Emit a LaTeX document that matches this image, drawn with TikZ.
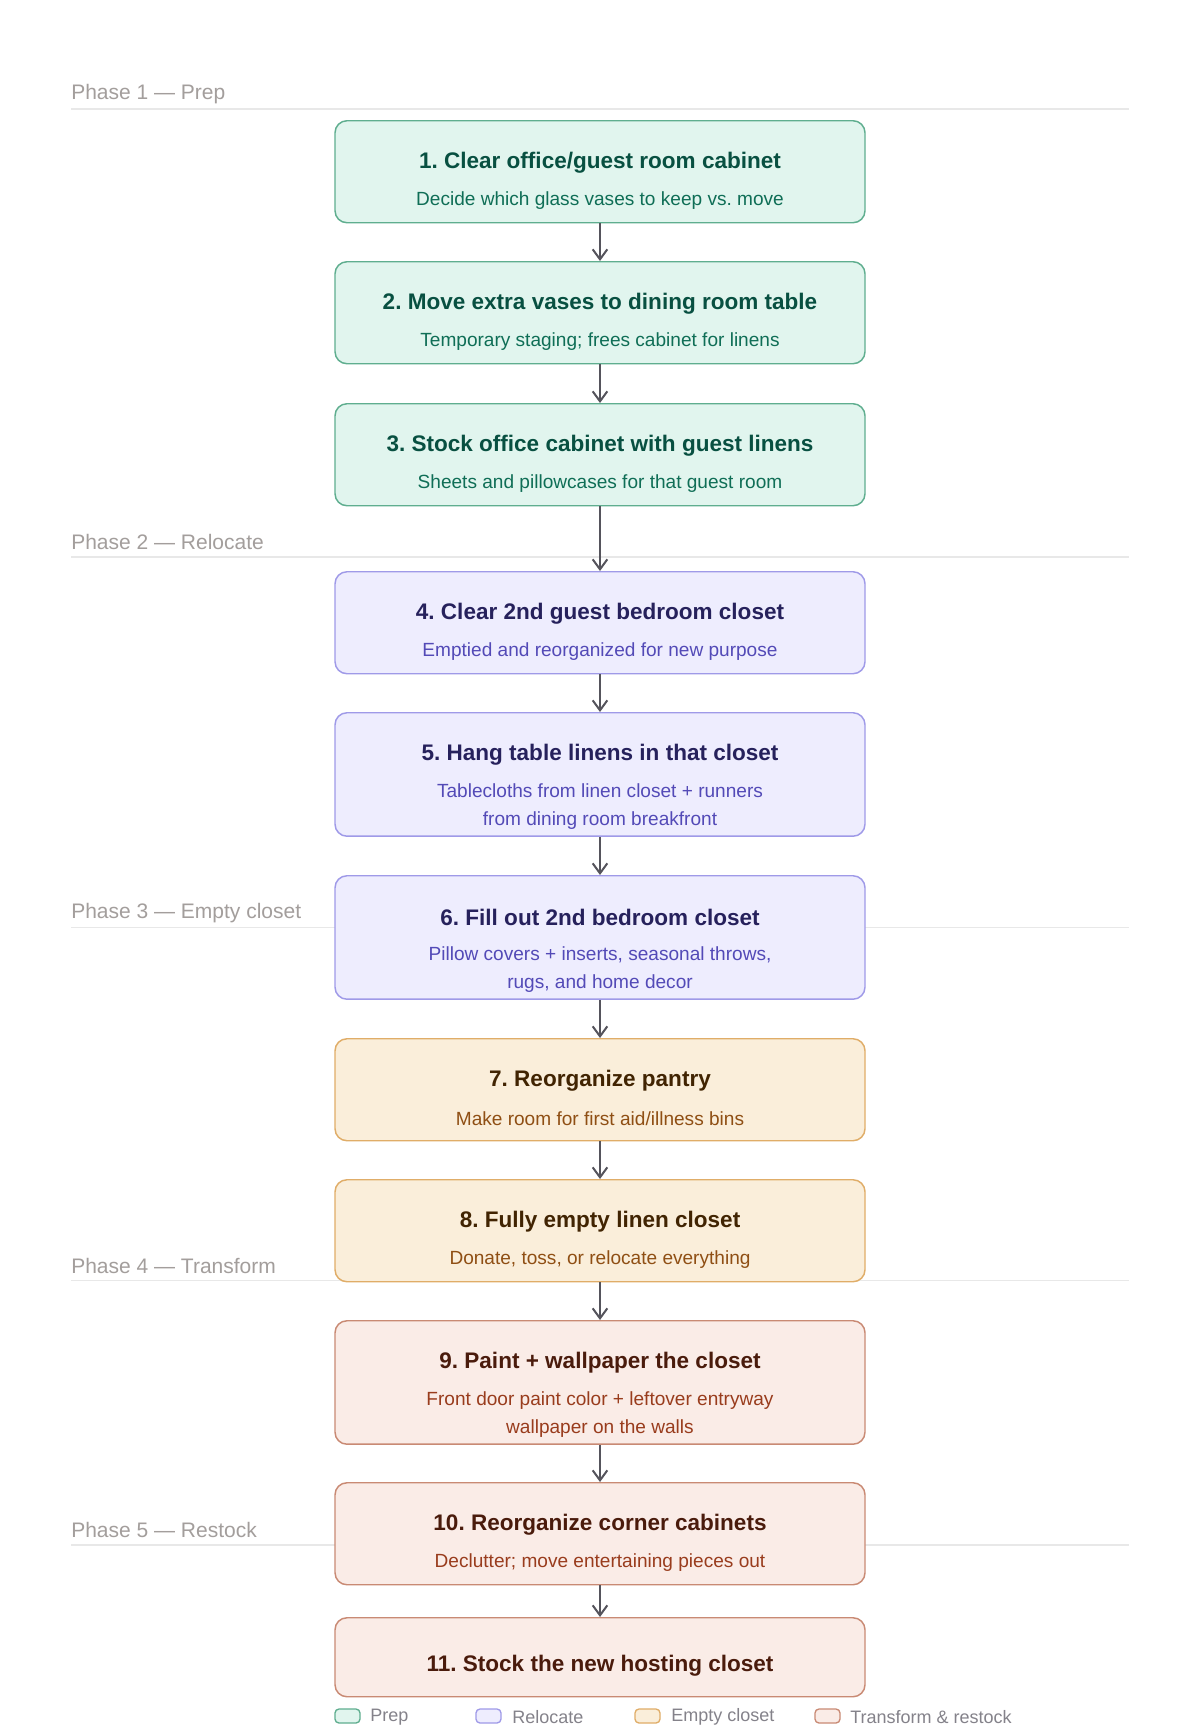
\documentclass[tikz,border=0pt]{standalone}
\usepackage{fontspec}
\setmainfont{Liberation Sans}
\usetikzlibrary{arrows.meta}
\definecolor{prepfill}{HTML}{E1F5EE}
\definecolor{prepline}{HTML}{5FAE8F}
\definecolor{preptitle}{HTML}{085041}
\definecolor{prepsub}{HTML}{0F6E56}
\definecolor{relfill}{HTML}{EEEDFE}
\definecolor{relline}{HTML}{9F9AE8}
\definecolor{reltitle}{HTML}{26215C}
\definecolor{relsub}{HTML}{534AB7}
\definecolor{empfill}{HTML}{FAEEDA}
\definecolor{empline}{HTML}{E0AD68}
\definecolor{emptitle}{HTML}{412402}
\definecolor{empsub}{HTML}{8F4F14}
\definecolor{trfill}{HTML}{FAECE7}
\definecolor{trline}{HTML}{C98A74}
\definecolor{trtitle}{HTML}{4A1B0C}
\definecolor{trsub}{HTML}{993C1D}
\definecolor{arrowgray}{HTML}{55545C}
\definecolor{phasegray}{HTML}{A39E9C}
\definecolor{phaseline}{HTML}{E8E8E8}
\definecolor{legendgray}{HTML}{84828A}
\tikzset{
  box/.style={draw, rounded corners=9pt, minimum width=397.5pt, inner sep=0pt, anchor=north, line width=1.1pt},
  prepbox/.style={box, fill=prepfill, draw=prepline},
  relbox/.style={box, fill=relfill, draw=relline},
  empbox/.style={box, fill=empfill, draw=empline},
  trbox/.style={box, fill=trfill, draw=trline},
  onesub/.style={minimum height=76.5pt},
  twosub/.style={minimum height=92.6pt},
  ttl/.style={font=\fontsize{16.9}{20}\selectfont\bfseries, inner sep=0pt, yshift=-2.4pt},
  subt/.style={font=\fontsize{14.3}{21.5}\selectfont, align=center, inner sep=0pt, yshift=-2.4pt},
  phaselbl/.style={font=\fontsize{15.75}{18}\selectfont, text=phasegray, anchor=west, inner sep=0pt, yshift=-2.2pt},
  phaserule/.style={draw=phaseline, line width=1.1pt},
  arr/.style={draw=arrowgray, line width=1.5pt, -{Straight Barb[length=7.5pt,width=11pt,line width=1.5pt]}},
  swatch/.style={draw, rounded corners=3pt, minimum width=18.75pt, minimum height=10.5pt, inner sep=0pt, line width=1pt},
  legtxt/.style={font=\fontsize{13.5}{16}\selectfont, text=legendgray, anchor=west, inner sep=0pt, yshift=-0.8pt}
}
\begin{document}
\frenchspacing
\begin{tikzpicture}[x=0.75pt,y=-0.75pt]
\useasboundingbox[fill=white] (0,0) rectangle (1200,1729);
% phase rules and labels
\coordinate (p1a) at (71,109);   \coordinate (p1b) at (1129,109);
\coordinate (p2a) at (71,557);   \coordinate (p2b) at (1129,557);
\coordinate (p3a) at (71,927.5); \coordinate (p3b) at (1129,927.5);
\coordinate (p4a) at (71,1280.5);\coordinate (p4b) at (1129,1280.5);
\coordinate (p5a) at (71,1545);  \coordinate (p5b) at (1129,1545);
\draw[phaserule] (p1a) -- (p1b);
\draw[phaserule] (p2a) -- (p2b);
\draw[phaserule] (p3a) -- (p3b);
\draw[phaserule] (p4a) -- (p4b);
\draw[phaserule] (p5a) -- (p5b);
\node[phaselbl] (ph1) at (71,91.5) {Phase 1 — Prep};
\node[phaselbl] (ph2) at (71,539) {Phase 2 — Relocate};
\node[phaselbl] (ph3) at (71,910) {Phase 3 — Empty closet};
\node[phaselbl] (ph4) at (71,1263) {Phase 4 — Transform};
\node[phaselbl] (ph5) at (71,1527.5) {Phase 5 — Restock};
% boxes
\node[prepbox,onesub] (b1) at (600,120) {};
\node[prepbox,onesub] (b2) at (600,261) {};
\node[prepbox,onesub] (b3) at (600,403) {};
\node[relbox,onesub] (b4) at (600,571) {};
\node[relbox,twosub] (b5) at (600,712) {};
\node[relbox,twosub] (b6) at (600,875) {};
\node[empbox,onesub] (b7) at (600,1038) {};
\node[empbox,onesub] (b8) at (600,1179) {};
\node[trbox,twosub] (b9) at (600,1320) {};
\node[trbox,onesub] (b10) at (600,1482) {};
\node[trbox,minimum height=59.25pt] (b11) at (600,1617) {};
% texts
\node[ttl,text=preptitle] (t1) at (600,159.5) {1. Clear office/guest room cabinet};
\node[subt,text=prepsub] (s1) at (600,197) {Decide which glass vases to keep vs. move};
\node[ttl,text=preptitle] (t2) at (600,300.5) {2. Move extra vases to dining room table};
\node[subt,text=prepsub] (s2) at (600,338) {Temporary staging; frees cabinet for linens};
\node[ttl,text=preptitle] (t3) at (600,442.5) {3. Stock office cabinet with guest linens};
\node[subt,text=prepsub] (s3) at (600,480) {Sheets and pillowcases for that guest room};
\node[ttl,text=reltitle] (t4) at (600,610.5) {4. Clear 2nd guest bedroom closet};
\node[subt,text=relsub] (s4) at (600,648) {Emptied and reorganized for new purpose};
\node[ttl,text=reltitle] (t5) at (600,751.5) {5. Hang table linens in that closet};
\node[subt,text=relsub] (s5) at (600,803.5) {Tablecloths from linen closet + runners\\from dining room breakfront};
\node[ttl,text=reltitle] (t6) at (600,914.5) {6. Fill out 2nd bedroom closet};
\node[subt,text=relsub] (s6) at (600,966.5) {Pillow covers + inserts, seasonal throws,\\rugs, and home decor};
\node[ttl,text=emptitle] (t7) at (600,1077.5) {7. Reorganize pantry};
\node[subt,text=empsub] (s7) at (600,1115) {Make room for first aid/illness bins};
\node[ttl,text=emptitle] (t8) at (600,1218.5) {8. Fully empty linen closet};
\node[subt,text=empsub] (s8) at (600,1256) {Donate, toss, or relocate everything};
\node[ttl,text=trtitle] (t9) at (600,1359.5) {9. Paint + wallpaper the closet};
\node[subt,text=trsub] (s9) at (600,1411.5) {Front door paint color + leftover entryway\\wallpaper on the walls};
\node[ttl,text=trtitle] (t10) at (600,1521.5) {10. Reorganize corner cabinets};
\node[subt,text=trsub] (s10) at (600,1559) {Declutter; move entertaining pieces out};
\node[ttl,text=trtitle] (t11) at (600,1663) {11. Stock the new hosting closet};
% arrows
\draw[arr] (b1.south) -- (b2.north);
\draw[arr] (b2.south) -- (b3.north);
\draw[arr] (b3.south) -- (b4.north);
\draw[arr] (b4.south) -- (b5.north);
\draw[arr] (b5.south) -- (b6.north);
\draw[arr] (b6.south) -- (b7.north);
\draw[arr] (b7.south) -- (b8.north);
\draw[arr] (b8.south) -- (b9.north);
\draw[arr] (b9.south) -- (b10.north);
\draw[arr] (b10.south) -- (b11.north);
% legend
\node[swatch,fill=prepfill,draw=prepline] (l1) at (347.5,1716) {};
\node[legtxt] (lt1) at (370,1716) {Prep};
\node[swatch,fill=relfill,draw=relline] (l2) at (488.5,1716) {};
\node[legtxt] (lt2) at (512,1716) {Relocate};
\node[swatch,fill=empfill,draw=empline] (l3) at (647.5,1716) {};
\node[legtxt] (lt3) at (671,1716) {Empty closet};
\node[swatch,fill=trfill,draw=trline] (l4) at (827.5,1716) {};
\node[legtxt] (lt4) at (850,1716) {Transform \& restock};
\end{tikzpicture}
\end{document}
